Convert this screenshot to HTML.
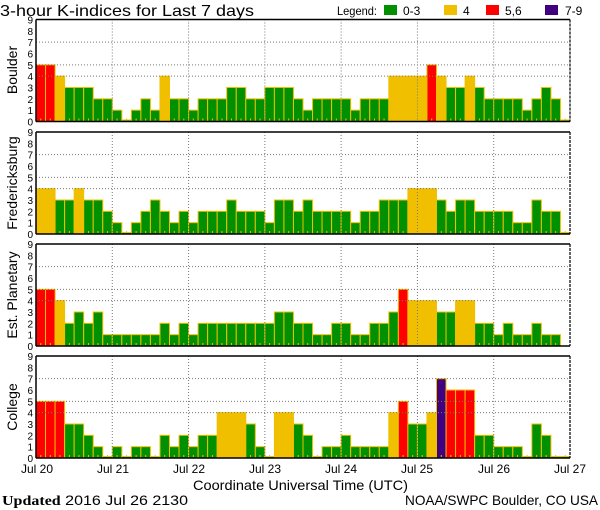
<!DOCTYPE html>
<html><head><meta charset="utf-8"><style>
html,body{margin:0;padding:0;background:#fff;}
svg{display:block;font-family:"Liberation Sans",sans-serif;}
</style></head><body>
<svg id="s" width="600" height="510" viewBox="0 0 600 510" xmlns="http://www.w3.org/2000/svg">
<rect width="600" height="510" fill="#fff"/>
<g id="bars"></g>
<g id="grid"></g>
<text x="0" y="16" font-size="16" fill="#000" textLength="254" lengthAdjust="spacingAndGlyphs">3-hour K-indices for Last 7 days</text>
<text x="337" y="15" font-size="12" fill="#000" textLength="40" lengthAdjust="spacingAndGlyphs">Legend:</text>
<rect x="384" y="5" width="13" height="10" fill="#009000"/>
<text x="403" y="15" font-size="12">0-3</text>
<rect x="444" y="5" width="13" height="10" fill="#f0c000"/>
<text x="463" y="15" font-size="12">4</text>
<rect x="486" y="5" width="13" height="10" fill="#ff0000"/>
<text x="505" y="15" font-size="12">5,6</text>
<rect x="545" y="5" width="13" height="10" fill="#400080"/>
<text x="565" y="15" font-size="12">7-9</text>
<g font-size="14" text-anchor="middle">
<text transform="translate(17,70) rotate(-90)">Boulder</text>
<text transform="translate(17,183) rotate(-90)">Fredericksburg</text>
<text transform="translate(17,295) rotate(-90)">Est. Planetary</text>
<text transform="translate(17,407) rotate(-90)">College</text>
</g>
<g id="ylab" font-size="10" text-anchor="end"></g>
<g font-size="12" text-anchor="middle">
<text x="37" y="473">Jul 20</text>
<text x="113" y="473">Jul 21</text>
<text x="189" y="473">Jul 22</text>
<text x="265" y="473">Jul 23</text>
<text x="341" y="473">Jul 24</text>
<text x="417" y="473">Jul 25</text>
<text x="494" y="473">Jul 26</text>
<text x="570" y="473">Jul 27</text>
</g>
<text x="193" y="490" font-size="14" textLength="215" lengthAdjust="spacingAndGlyphs">Coordinate Universal Time (UTC)</text>
<text x="2" y="505" font-size="14" textLength="186" lengthAdjust="spacingAndGlyphs"><tspan font-family="Liberation Serif,serif" font-weight="bold">Updated</tspan> 2016 Jul 26 2130</text>
<text x="405" y="505" font-size="14" textLength="193" lengthAdjust="spacingAndGlyphs">NOAA/SWPC Boulder, CO USA</text>
</svg>
<script>
var data=[
[5,5,4,3,3,3,2,2, 1,0,1,2,1,4,2,2, 1,2,2,2,3,3,2,2, 3,3,3,2,1,2,2,2, 2,1,2,2,2,4,4,4, 4,5,4,3,3,4,3,2, 2,2,2,1,2,3,2,0],
[4,4,3,3,4,3,3,2, 1,0,1,2,3,2,1,2, 1,2,2,2,3,2,2,2, 1,3,3,2,3,2,2,2, 2,1,2,2,3,3,3,4, 4,4,3,2,3,3,2,2, 2,2,1,1,3,2,2,0],
[5,5,4,2,3,2,3,1, 1,1,1,1,1,2,1,2, 1,2,2,2,2,2,2,2, 2,3,3,2,2,1,1,2, 2,1,1,2,2,3,5,4, 4,4,3,3,4,4,2,2, 1,2,1,1,2,1,1,null],
[5,5,5,3,3,2,1,0, 1,0,1,1,0,2,1,2, 1,2,2,4,4,4,3,1, 0,4,4,3,2,0,1,1, 2,1,1,1,1,4,5,3, 3,4,7,6,6,6,2,2, 1,1,1,0,3,2,0,0]];
var tops=[19.5,132,244,356],H=102,x0=36,x1=570,bw=(x1-x0)/56;
var ns="http://www.w3.org/2000/svg";
function el(t,a,p){var e=document.createElementNS(ns,t);for(var k in a)e.setAttribute(k,a[k]);p.appendChild(e);return e;}
var B=document.getElementById('bars'),G=document.getElementById('grid'),Y=document.getElementById('ylab');
function col(v){return v<=3?'#009000':v==4?'#f0c000':v<=6?'#ff0000':'#400080';}
for(var p=0;p<4;p++){
 var t=tops[p],b=t+H,u=H/9;
 for(var i=0;i<56;i++){var v=data[p][i];if(v===null)continue;
  var h=v==0?1.5:v*u,x=x0+i*bw;
  el('rect',{x:x,y:b-h,width:bw,height:h,fill:col(v),stroke:'#f0c000','stroke-width':1},B);
  el('rect',{x:x+bw/2-0.5,y:b-3,width:1,height:2,fill:'#f0c000'},B);
 }
 [4,5,7].forEach(function(k){el('line',{x1:x0,x2:x1,y1:b-k*u,y2:b-k*u,stroke:'#777','stroke-dasharray':'1,2'},G);});
 for(var d=1;d<7;d++){var gx=x0+d*8*bw;el('line',{x1:gx,x2:gx,y1:t,y2:b,stroke:'#777','stroke-dasharray':'1,2'},G);}
 el('line',{x1:x0,x2:x1,y1:t,y2:t,stroke:'#000','stroke-width':1.5},G);
 el('line',{x1:x0,x2:x1,y1:b,y2:b,stroke:'#000','stroke-width':1.5},G);
 el('line',{x1:x0,x2:x0,y1:t,y2:b,stroke:'#000','stroke-width':1.5},G);
 el('line',{x1:x1,x2:x1,y1:t,y2:b,stroke:'#000','stroke-width':1.2,'stroke-dasharray':'3,1'},G);
 for(var k=0;k<=9;k++){var tx=el('text',{x:33,y:b-k*u+4},Y);tx.textContent=k;}
}
</script>
</body></html>
